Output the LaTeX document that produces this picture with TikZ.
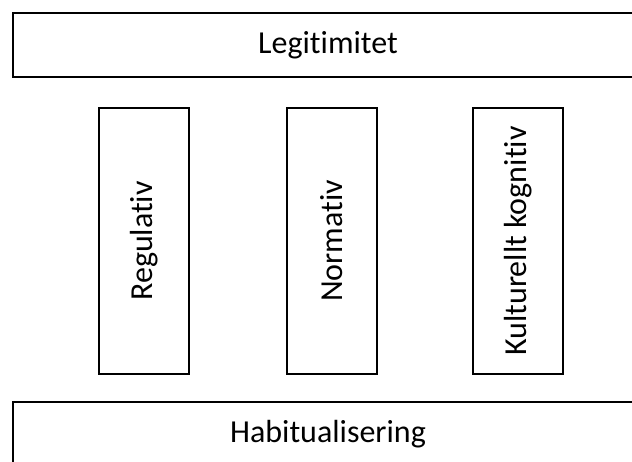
\documentclass[tikz,border=0pt]{standalone}
\usepackage{fontspec}
\setmainfont[Ligatures={NoCommon,NoRequired,NoContextual}]{Carlito}
\begin{document}
\begin{tikzpicture}[x=1pt,y=1pt,
  wide/.style={draw=black, line width=1.8pt, minimum width=630pt, minimum height=64pt, inner sep=0pt, font=\fontsize{32}{37}\selectfont},
  pillar/.style={draw=black, line width=1.8pt, rotate=90, minimum width=266pt, minimum height=90pt, inner sep=0pt, font=\fontsize{32}{37}\selectfont}]
\useasboundingbox (0,0) rectangle (632,462);
\clip (0,0) rectangle (632,462);
\fill[white] (0,0) rectangle (632,462);
\node[wide] (leg) at (328,417) {Legitimitet};
\node[wide] (hab) at (328,28) {Habitualisering};
\node[pillar] (reg) at (144,221) {Regulativ};
\node[pillar] (norm) at (332,221) {Normativ};
\node[pillar] (kult) at (518,221) {Kulturellt kognitiv};
\end{tikzpicture}
\end{document}
